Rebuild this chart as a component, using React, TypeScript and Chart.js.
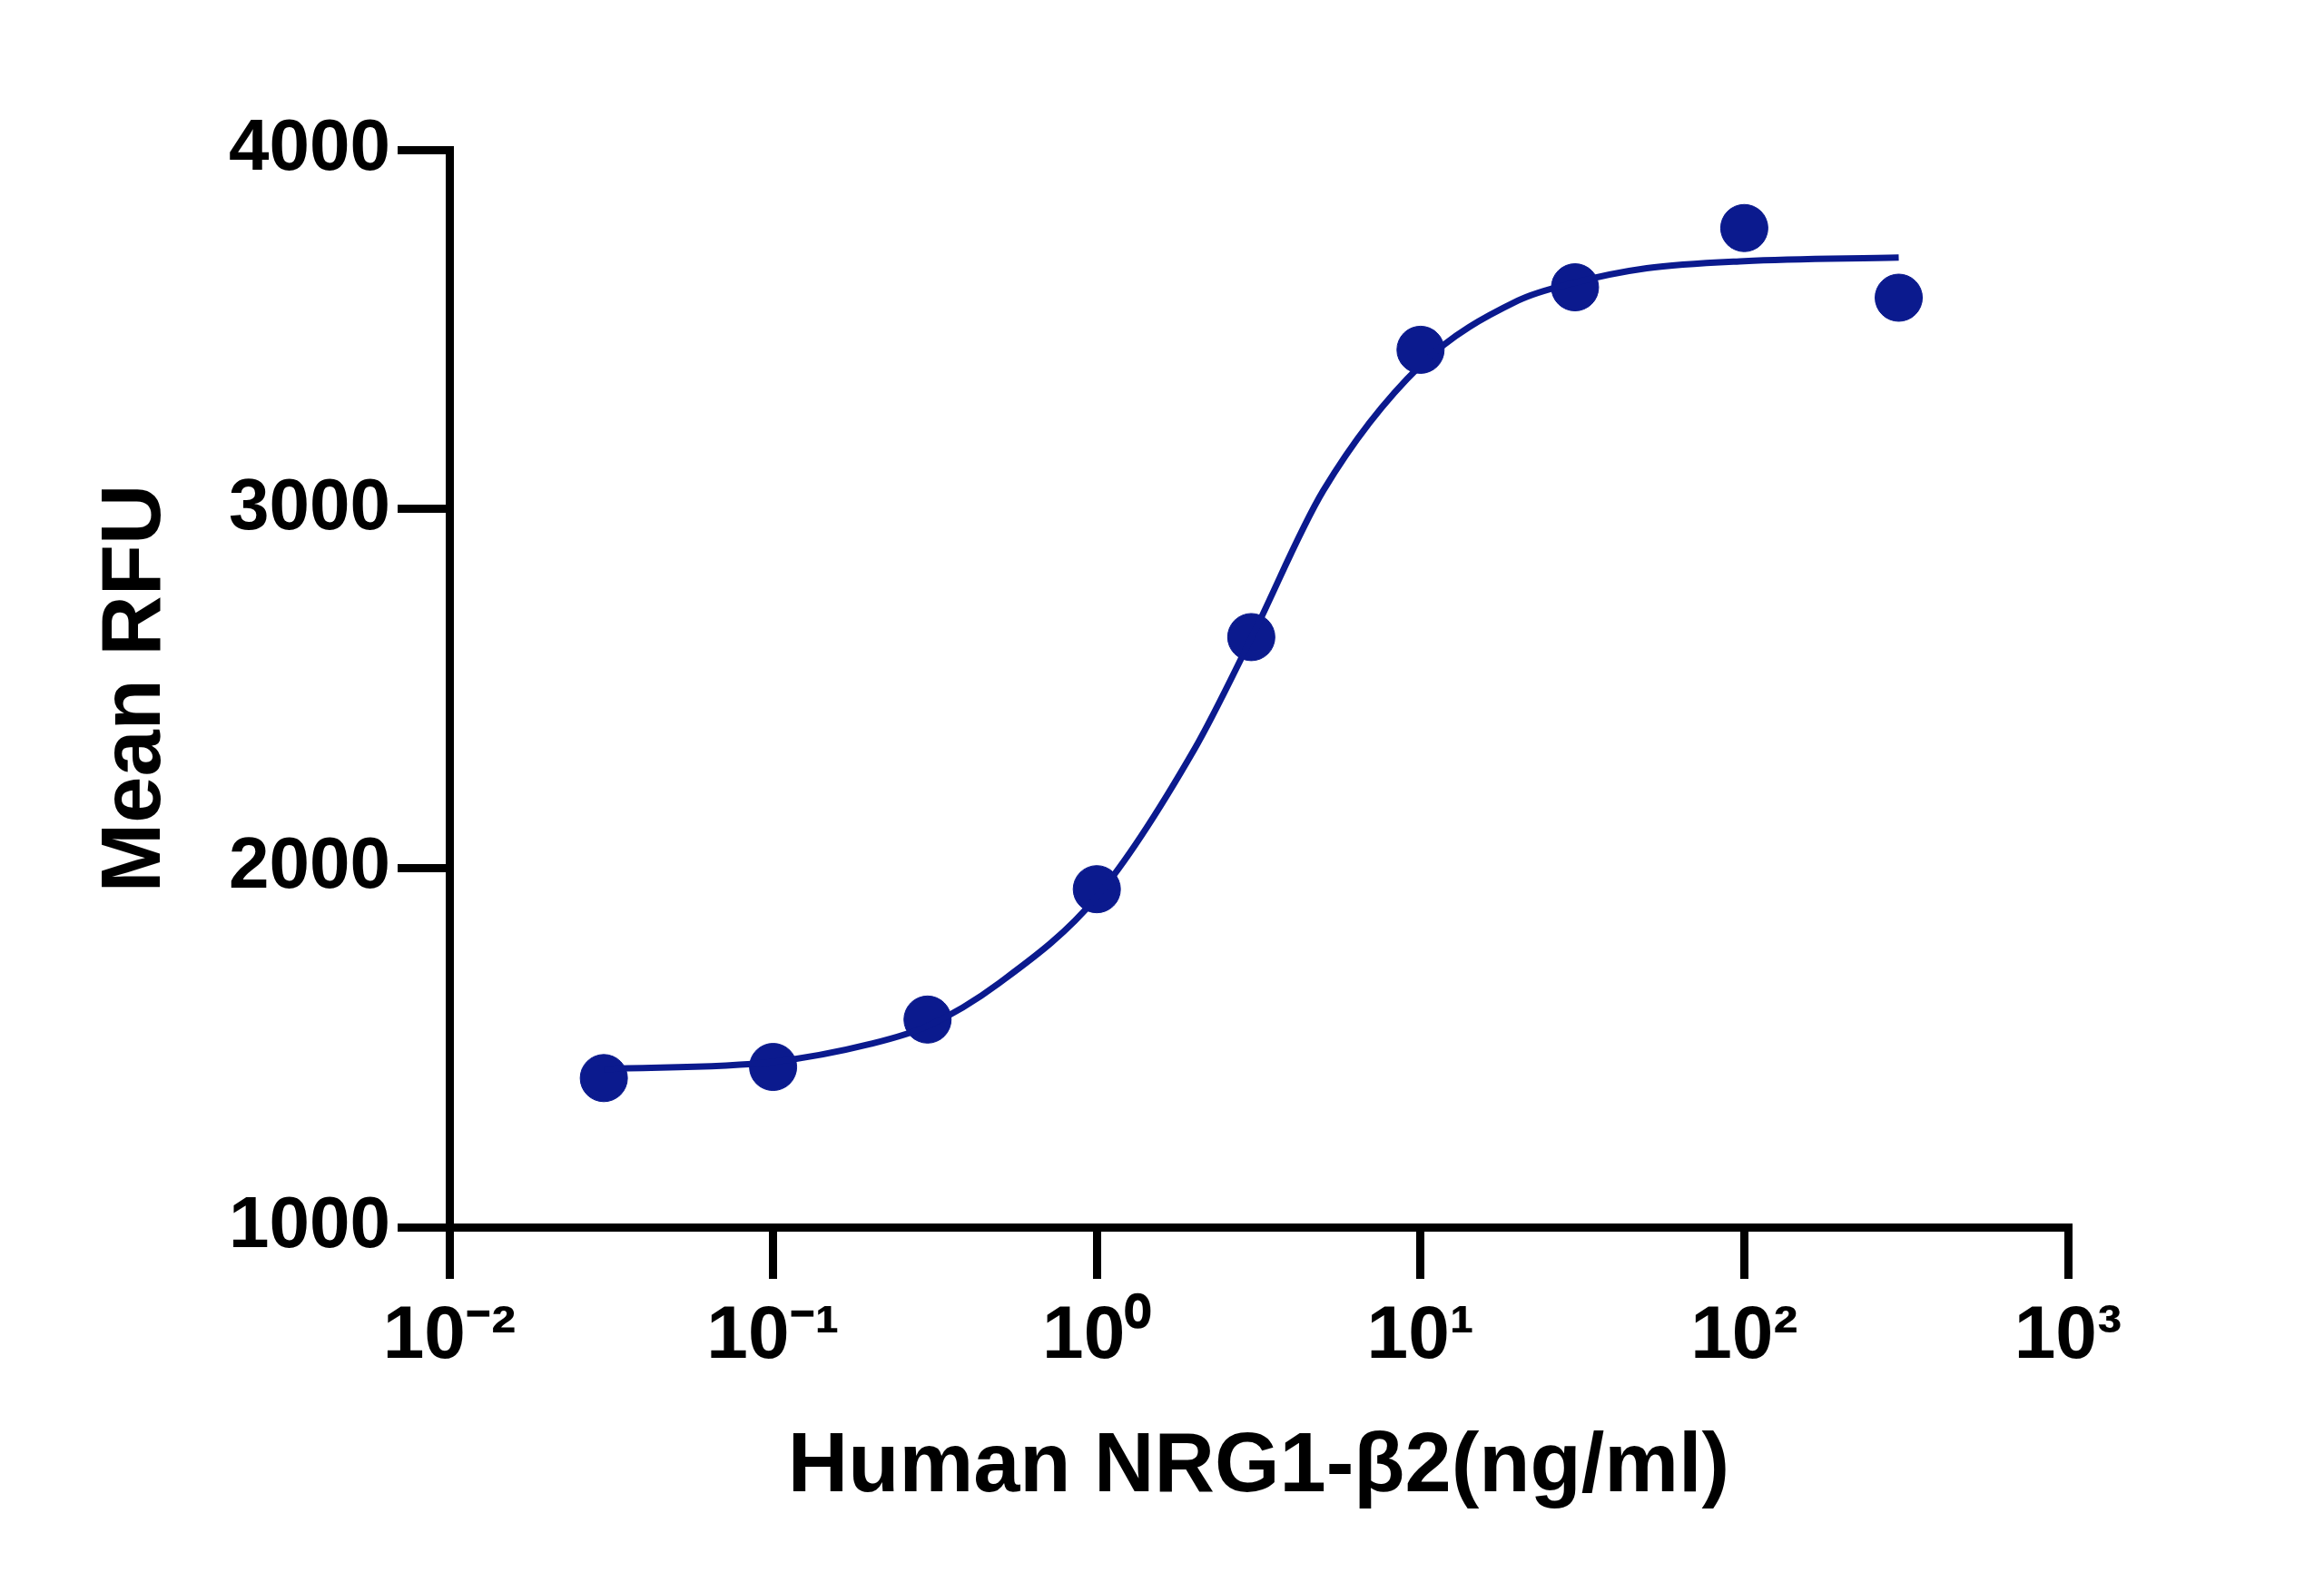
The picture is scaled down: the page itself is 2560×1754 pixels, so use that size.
import React, { useEffect, useRef } from "react";
import { Chart, registerables } from "chart.js";
Chart.register(...registerables);

const doseX = [0.03, 0.1, 0.3, 1, 3, 10, 30, 100, 300];
const meanRFU = [1415, 1446, 1578, 1941, 2643, 3443, 3617, 3782, 3588];
const fitX = [0.03, 0.1, 0.2, 0.3, 0.5, 1, 2, 3, 5, 10, 20, 30, 50, 100, 300];
const fitY = [1440, 1460, 1510, 1560, 1680, 1920, 2330, 2640, 3050, 3400, 3580, 3630, 3670, 3690, 3700];
const xTickLabels: Record<string, string> = {
  "0.01": "10⁻²", "0.1": "10⁻¹", "1": "10⁰", "10": "10¹", "100": "10²", "1000": "10³",
};

const COLOR = "#0b1a8e";
const FONT = "'Liberation Sans', Arial, sans-serif";

export default function App() {
  const ref = useRef<HTMLCanvasElement>(null);
  useEffect(() => {
    const chart = new Chart(ref.current!, {
      type: "scatter",
      data: {
        datasets: [
          {
            type: "line",
            data: fitX.map((x, i) => ({ x, y: fitY[i] })),
            borderColor: COLOR,
            borderWidth: 7,
            pointRadius: 0,
            cubicInterpolationMode: "monotone",
            fill: false,
          },
          {
            data: doseX.map((x, i) => ({ x, y: meanRFU[i] })),
            backgroundColor: COLOR,
            borderColor: COLOR,
            pointRadius: 26,
          },
        ],
      },
      options: {
        animation: false,
        responsive: false,
        maintainAspectRatio: false,
        layout: { padding: { left: 0, top: 165, right: 282, bottom: 77 } },
        plugins: { legend: { display: false }, tooltip: { enabled: false } },
        scales: {
          x: {
            type: "logarithmic",
            min: 0.01,
            max: 1000,
            afterBuildTicks: (s: any) => {
              s.ticks = [0.01, 0.1, 1, 10, 100, 1000].map((v) => ({ value: v }));
            },
            afterFit: (s: any) => { s.height = 325; },
            ticks: {
              callback: (v: any) => xTickLabels[String(v)] ?? "",
              color: "#000",
              font: { family: FONT, size: 82, weight: "bold" },
              padding: 15,
              maxRotation: 0,
              autoSkip: false,
            },
            grid: { drawOnChartArea: false, drawTicks: true, tickLength: 57, lineWidth: 9, color: "#000" },
            border: { width: 9, color: "#000" },
            title: {
              display: true,
              text: "Human NRG1-β2(ng/ml)",
              color: "#000",
              font: { family: FONT, size: 92, weight: "bold" },
              padding: { top: 20 },
            },
          },
          y: {
            min: 1000,
            max: 4000,
            afterFit: (s: any) => { s.width = 495; },
            ticks: {
              stepSize: 1000,
              callback: (v: any) => String(v),
              color: "#000",
              font: { family: FONT, size: 80, weight: "bold" },
              padding: 8,
            },
            grid: { drawOnChartArea: false, drawTicks: true, tickLength: 57, lineWidth: 9, color: "#000" },
            border: { width: 9, color: "#000" },
            title: {
              display: true,
              text: "Mean RFU",
              color: "#000",
              font: { family: FONT, size: 92, weight: "bold" },
              padding: { top: 95, bottom: 0 },
            },
          },
        },
      },
    } as any);
    return () => chart.destroy();
  }, []);
  return (
    <div style={{ position: "fixed", left: 0, top: 0, width: 2560, height: 1754, background: "#fff" }}>
      <canvas ref={ref} width={2560} height={1754} style={{ width: 2560, height: 1754 }} />
    </div>
  );
}
